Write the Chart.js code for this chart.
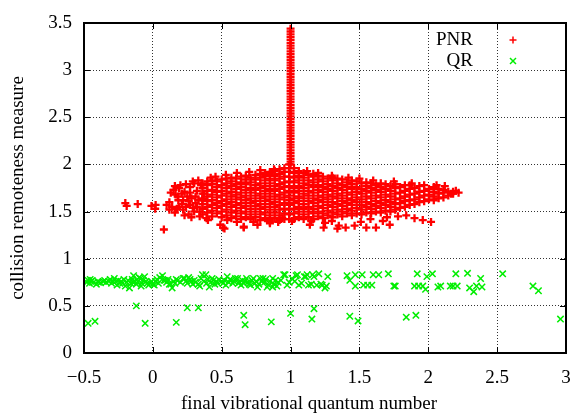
<!DOCTYPE html>
<html><head><meta charset="utf-8">
<script src="https://cdn.jsdelivr.net/npm/chart.js@4/dist/chart.umd.min.js"></script>
<style>html,body{margin:0;padding:0;background:#fff}#wrap{width:573px;height:414px;position:relative}</style>
</head><body><div id="wrap"><canvas id="c" width="573" height="414"></canvas></div>
<script>
const seriesNames = ['PNR', 'QR'];
const xAxisTitle = 'final vibrational quantum number';
const yAxisTitle = 'collision remoteness measure';
const xTickValues = [-0.5, 0, 0.5, 1, 1.5, 2, 2.5, 3];
const yTickValues = [0, 0.5, 1, 1.5, 2, 2.5, 3, 3.5];

// PNR dense cloud, read column by column (x, then the y values seen in that column)
const pnrColumnX = [0.36,0.395,0.43,0.465,0.50,0.535,0.57,0.605,0.64,0.675,0.71,0.745,0.78,0.815,0.85,0.885,0.92,0.955,0.99,1.025,1.06,1.095,1.13,1.165,1.20,1.235,1.27,1.305,1.34,1.375,1.41,1.445,1.48,1.515,1.55,1.585,1.62,1.655,1.69,1.725,1.76,1.795,1.83,1.865,1.90,1.935,1.97,2.005,2.04,2.075,2.11,2.145,2.18];
const pnrColumnY = [
 [1.47,1.53,1.58,1.64,1.69,1.75,1.80],
 [1.49,1.55,1.61,1.66,1.72,1.78,1.82],
 [1.45,1.51,1.57,1.62,1.68,1.73,1.79,1.83],
 [1.48,1.54,1.59,1.65,1.71,1.76,1.82],
 [1.44,1.50,1.56,1.61,1.67,1.72,1.78,1.84],
 [1.46,1.52,1.58,1.63,1.69,1.75,1.80,1.85],
 [1.43,1.49,1.55,1.60,1.66,1.71,1.77,1.82,1.86],
 [1.45,1.51,1.57,1.63,1.68,1.74,1.79,1.85],
 [1.42,1.48,1.54,1.59,1.65,1.70,1.76,1.81,1.87],
 [1.44,1.50,1.56,1.62,1.67,1.73,1.79,1.84,1.88],
 [1.42,1.47,1.53,1.59,1.64,1.70,1.75,1.81,1.86],
 [1.44,1.50,1.56,1.61,1.67,1.73,1.78,1.84,1.89],
 [1.41,1.47,1.53,1.58,1.64,1.69,1.75,1.80,1.86,1.90],
 [1.43,1.49,1.55,1.61,1.66,1.72,1.77,1.83,1.88,1.91],
 [1.41,1.46,1.52,1.58,1.63,1.69,1.74,1.80,1.85,1.90,1.92],
 [1.43,1.49,1.55,1.60,1.66,1.72,1.77,1.83,1.88,1.93],
 [1.41,1.46,1.52,1.57,1.63,1.68,1.74,1.79,1.85,1.90,1.95],
 [1.42,1.48,1.53,1.59,1.65,1.70,1.76,1.81,1.87,1.92,1.96],
 [1.42,1.47,1.52,1.57,1.62,1.67,1.72,1.77,1.82,1.87,1.92,1.96,2.00],
 [1.42,1.48,1.53,1.59,1.64,1.70,1.75,1.81,1.86,1.91,1.96],
 [1.44,1.50,1.55,1.61,1.66,1.72,1.77,1.83,1.88,1.93],
 [1.42,1.47,1.53,1.58,1.64,1.69,1.75,1.80,1.86,1.91],
 [1.44,1.50,1.55,1.61,1.67,1.72,1.78,1.83,1.89],
 [1.42,1.48,1.53,1.59,1.64,1.70,1.76,1.81,1.87,1.90],
 [1.45,1.50,1.56,1.62,1.67,1.73,1.78,1.84,1.88],
 [1.43,1.48,1.54,1.60,1.65,1.71,1.76,1.82,1.87],
 [1.46,1.51,1.57,1.63,1.68,1.74,1.79,1.85],
 [1.44,1.49,1.55,1.60,1.66,1.72,1.77,1.83,1.86],
 [1.47,1.52,1.58,1.64,1.69,1.75,1.80,1.85],
 [1.45,1.50,1.56,1.61,1.67,1.73,1.78,1.84],
 [1.48,1.53,1.59,1.64,1.70,1.76,1.81],
 [1.46,1.51,1.57,1.62,1.68,1.74,1.79,1.83],
 [1.48,1.54,1.60,1.65,1.71,1.76,1.82],
 [1.47,1.52,1.57,1.63,1.69,1.74,1.80],
 [1.49,1.55,1.60,1.66,1.72,1.77,1.81],
 [1.48,1.53,1.58,1.64,1.70,1.75,1.80],
 [1.50,1.56,1.61,1.67,1.73,1.78],
 [1.49,1.54,1.59,1.65,1.71,1.76,1.80],
 [1.51,1.57,1.62,1.68,1.74,1.79],
 [1.50,1.55,1.60,1.66,1.72,1.77],
 [1.52,1.58,1.63,1.69,1.75,1.79],
 [1.54,1.59,1.64,1.70,1.76],
 [1.55,1.61,1.66,1.72,1.78],
 [1.57,1.62,1.68,1.74,1.78],
 [1.58,1.63,1.69,1.75],
 [1.60,1.65,1.71,1.77],
 [1.61,1.67,1.72,1.78],
 [1.63,1.68,1.74],
 [1.62,1.66,1.71,1.76],
 [1.64,1.69,1.74],
 [1.65,1.70,1.73],
 [1.67,1.71],
 [1.69,1.71]
];
// PNR tall spike at v = 1
const pnrSpikeX = 1;
const pnrSpikeY = [2.00,2.03,2.06,2.09,2.12,2.15,2.18,2.21,2.24,2.27,2.30,2.33,2.36,2.39,2.42,2.45,2.48,2.51,2.54,2.57,2.60,2.63,2.66,2.69,2.72,2.75,2.78,2.81,2.84,2.87,2.90,2.93,2.96,2.99,3.02,3.05,3.08,3.11,3.14,3.17,3.20,3.23,3.26,3.29,3.32,3.35,3.38,3.41,3.44];
// PNR scattered points at the edges of the cloud
const pnrScattered = [
 [-0.20,1.59],[-0.19,1.56],[-0.11,1.58],[-0.01,1.56],[0.017,1.53],[0.08,1.31],[0.02,1.57],[0.10,1.57],
 [0.14,1.55],[0.175,1.53],[0.22,1.52],[0.15,1.73],[0.165,1.68],[0.20,1.78],[0.185,1.62],[0.27,1.76],
 [0.30,1.80],[0.33,1.83],[0.25,1.66],[0.31,1.59],[0.34,1.50],[0.39,1.43],[0.49,1.36],[0.51,1.33],
 [0.42,1.86],[0.455,1.87],[0.53,1.89],[0.61,1.91],[0.22,1.62],[0.27,1.57],[0.30,1.50],[0.37,1.69],
 [0.12,1.60],[0.13,1.70],[0.19,1.75],[0.23,1.71],[0.26,1.47],[0.28,1.64],[0.32,1.72],[0.21,1.58],
 [0.24,1.55],[0.29,1.54],[0.33,1.62],[0.18,1.66],[0.54,1.41],[0.61,1.39],[0.66,1.34],[0.76,1.36],
 [0.85,1.39],[0.91,1.39],[0.40,1.41],[0.52,1.32],[0.66,1.33],[0.73,1.39],[0.85,1.375],[0.94,1.43],
 [1.01,1.40],[1.15,1.40],[1.24,1.33],[1.34,1.32],[1.14,1.36],[1.35,1.35],[1.40,1.33],[1.465,1.35],
 [1.55,1.33],[1.62,1.33],[1.72,1.36],[1.90,1.43],[1.96,1.41],[2.02,1.39],[1.51,1.39],[1.67,1.40],
 [1.78,1.45],[1.84,1.46],[1.25,1.38],[1.30,1.40],[1.58,1.42],[1.70,1.44],[0.70,1.92],[0.78,1.94],
 [0.88,1.95],[1.12,1.93],[1.20,1.91],[1.30,1.88],[1.42,1.86],[1.50,1.85],[1.60,1.83],[1.75,1.82],
 [1.88,1.80],[2.22,1.70],[2.165,1.69],[2.20,1.72],[2.12,1.77],[2.06,1.78],
 [0.16,1.77],[0.24,1.79],[0.21,1.69],[0.27,1.70],[0.29,1.82],[0.35,1.78],[0.16,1.49],[0.23,1.46],
 [0.28,1.44],[0.34,1.45],[0.12,1.52],[0.26,1.61],[0.32,1.55],[0.19,1.55],[0.36,1.62],[0.31,1.66]
];
// QR points
const qrPoints = [
 [-0.47,0.315],[-0.42,0.336],[-0.12,0.50],[-0.056,0.315],[0.17,0.325],[0.25,0.48],[0.33,0.48],[0.66,0.40],
 [0.67,0.30],[0.86,0.33],[1.0,0.42],[1.17,0.47],[1.155,0.36],[1.43,0.39],[1.49,0.34],[1.84,0.38],[1.91,0.40],[2.96,0.36],
 [-0.48,0.75],[-0.47,0.77],[-0.46,0.74],[-0.45,0.76],[-0.44,0.77],[-0.43,0.75],[-0.41,0.73],[-0.40,0.76],
 [-0.38,0.745],[-0.36,0.76],[-0.34,0.75],[-0.32,0.76],[-0.31,0.78],[-0.30,0.74],[-0.28,0.79],[-0.27,0.76],
 [-0.26,0.72],[-0.25,0.77],[-0.23,0.76],[-0.22,0.74],[-0.21,0.78],[-0.20,0.71],[-0.19,0.75],[-0.18,0.77],
 [-0.17,0.69],[-0.16,0.74],[-0.15,0.78],[-0.14,0.82],[-0.13,0.76],[-0.12,0.73],[-0.11,0.76],[-0.10,0.80],
 [-0.09,0.79],[-0.08,0.74],[-0.07,0.77],[-0.06,0.81],[-0.05,0.76],[-0.04,0.74],[-0.03,0.72],[-0.02,0.74],
 [-0.01,0.76],[0.00,0.73],[0.01,0.72],[0.03,0.78],[0.05,0.80],[0.07,0.82],[0.08,0.77],[0.09,0.77],
 [0.10,0.75],[0.12,0.73],[0.13,0.73],[0.14,0.69],[0.15,0.76],[0.17,0.78],[0.18,0.77],[0.20,0.75],
 [0.22,0.79],[0.23,0.79],[0.24,0.76],[0.25,0.74],[0.27,0.78],[0.28,0.76],[0.30,0.77],[0.31,0.75],
 [0.33,0.73],[0.34,0.71],[0.35,0.79],[0.36,0.83],[0.37,0.76],[0.385,0.83],[0.40,0.78],[0.41,0.70],
 [0.42,0.75],[0.44,0.77],[0.45,0.73],[0.47,0.74],[0.48,0.78],[0.50,0.76],[0.52,0.77],[0.53,0.72],
 [0.54,0.81],[0.56,0.78],[0.58,0.74],[0.59,0.76],[0.60,0.79],[0.615,0.79],[0.63,0.75],[0.64,0.72],[0.65,0.77],
 [0.66,0.74],[0.67,0.76],[0.68,0.79],[0.69,0.75],[0.70,0.73],[0.71,0.72],[0.72,0.77],[0.73,0.79],
 [0.74,0.74],[0.75,0.76],[0.76,0.70],[0.77,0.73],[0.78,0.79],[0.80,0.79],[0.81,0.75],[0.83,0.70],
 [0.84,0.72],[0.85,0.76],[0.87,0.79],[0.87,0.70],[0.88,0.73],[0.90,0.71],[0.91,0.75],[0.93,0.77],
 [0.95,0.83],[0.96,0.83],[0.975,0.72],[0.99,0.75],[1.01,0.79],[1.03,0.76],[1.04,0.82],[1.05,0.83],
 [1.06,0.72],[1.08,0.74],[1.10,0.81],[1.11,0.81],[1.12,0.83],[1.13,0.72],[1.15,0.73],[1.16,0.83],
 [1.17,0.81],[1.19,0.72],[1.205,0.84],[1.22,0.73],[1.23,0.72],[1.25,0.69],[1.26,0.71],[1.27,0.81],
 [1.41,0.82],[1.43,0.77],[1.47,0.71],[1.47,0.83],[1.52,0.83],[1.53,0.72],[1.56,0.72],[1.59,0.72],
 [1.60,0.83],[1.64,0.83],[1.71,0.84],[1.75,0.71],[1.76,0.71],[1.90,0.71],[1.92,0.84],[1.93,0.71],
 [1.96,0.71],[1.98,0.675],[1.99,0.81],[2.03,0.84],[2.07,0.70],[2.09,0.71],[2.16,0.71],[2.18,0.71],
 [2.20,0.84],[2.21,0.71],[2.285,0.845],[2.30,0.69],[2.33,0.65],[2.35,0.71],[2.38,0.79],[2.39,0.70],
 [2.54,0.84],[2.76,0.71],[2.80,0.66],
 [-0.455,0.78],[-0.395,0.75],[-0.35,0.77],[-0.29,0.76],[-0.24,0.74],[-0.145,0.75],[-0.085,0.71],[0.02,0.76],
 [0.04,0.74],[0.11,0.78],[0.16,0.74],[0.26,0.80],[0.29,0.73],[0.39,0.74],[0.43,0.79],[0.46,0.76],
 [0.51,0.74],[0.55,0.75],[0.57,0.77],[0.62,0.74],[0.79,0.76],[0.82,0.78],[0.89,0.77]
];

// build point tables for the library
const pnrData = [];
pnrColumnX.forEach((x, i) => pnrColumnY[i].forEach(y => pnrData.push({x, y})));
pnrSpikeY.forEach(y => pnrData.push({x: pnrSpikeX, y}));
pnrScattered.forEach(p => pnrData.push({x: p[0], y: p[1]}));
const qrData = qrPoints.map(p => ({x: p[0], y: p[1]}));

const FONT = '"Liberation Serif", "Times New Roman", serif';
const RED = '#ff0000', GREEN = '#00ee00';
const fmt = v => (v < 0 ? '\u2212' + String(-v) : String(v));

const overlay = {
  id: 'overlay',
  afterDraw(chart) {
    const {ctx, chartArea: a, scales: {x, y}} = chart;
    ctx.save();
    ctx.setLineDash([]);
    ctx.strokeStyle = '#000';
    ctx.lineWidth = 1;
    const seg = (x1, y1, x2, y2) => { ctx.beginPath(); ctx.moveTo(x1, y1); ctx.lineTo(x2, y2); ctx.stroke(); };
    xTickValues.forEach(v => { const p = Math.round(x.getPixelForValue(v)) + 0.5; seg(p, a.bottom, p, a.bottom - 6); seg(p, a.top, p, a.top + 6); });
    yTickValues.forEach(v => { const p = Math.round(y.getPixelForValue(v)) + 0.5; seg(a.left, p, a.left + 6, p); seg(a.right, p, a.right - 6, p); });
    ctx.lineWidth = 2;
    ctx.strokeRect(a.left, a.top, a.right - a.left, a.bottom - a.top);
    ctx.fillStyle = '#000';
    ctx.font = '19px ' + FONT;
    // tick labels
    ctx.textBaseline = 'middle';
    ctx.textAlign = 'right';
    yTickValues.forEach(v => ctx.fillText(fmt(v), a.left - 12, y.getPixelForValue(v)));
    ctx.textAlign = 'center';
    xTickValues.forEach(v => ctx.fillText(fmt(v), x.getPixelForValue(v), a.bottom + 25));
    // legend
    ctx.textAlign = 'right';
    const lx = a.right - 93, mx = a.right - 53;
    ctx.fillText(seriesNames[0], lx, a.top + 17);
    ctx.fillText(seriesNames[1], lx, a.top + 38);
    ctx.lineWidth = 1.5;
    ctx.strokeStyle = RED;
    seg(mx - 3.5, a.top + 17, mx + 3.5, a.top + 17); seg(mx, a.top + 13.5, mx, a.top + 20.5);
    ctx.strokeStyle = GREEN;
    seg(mx - 3, a.top + 35, mx + 3, a.top + 41); seg(mx - 3, a.top + 41, mx + 3, a.top + 35);
    // axis titles
    ctx.textAlign = 'center';
    ctx.fillText(xAxisTitle, 309, 404);
    ctx.translate(18, (a.top + a.bottom) / 2);
    ctx.rotate(-Math.PI / 2);
    ctx.fillText(yAxisTitle, 0, 0);
    ctx.restore();
  }
};

new Chart(document.getElementById('c'), {
  type: 'scatter',
  data: {
    datasets: [
      { label: seriesNames[0], data: pnrData, pointStyle: 'cross', radius: 4, borderWidth: 2.3, borderColor: RED, backgroundColor: RED, hoverRadius: 4 },
      { label: seriesNames[1], data: qrData, pointStyle: 'crossRot', radius: 4.5, borderWidth: 1.5, borderColor: GREEN, backgroundColor: GREEN, hoverRadius: 4.5 }
    ]
  },
  options: {
    responsive: false,
    animation: false,
    events: [],
    layout: { padding: { top: 23, right: 7, left: 0, bottom: 0 } },
    plugins: { legend: { display: false }, tooltip: { enabled: false } },
    scales: {
      x: {
        type: 'linear', min: -0.5, max: 3,
        afterBuildTicks: s => { s.ticks = xTickValues.map(v => ({value: v})); },
        afterFit: s => { s.height = 61; },
        ticks: { display: false },
        grid: { color: 'rgba(0,0,0,0.8)', lineWidth: 1, drawTicks: false },
        border: { display: false, dash: [1, 2] }
      },
      y: {
        type: 'linear', min: 0, max: 3.5,
        afterBuildTicks: s => { s.ticks = yTickValues.map(v => ({value: v})); },
        afterFit: s => { s.width = 84; },
        ticks: { display: false },
        grid: { color: 'rgba(0,0,0,0.8)', lineWidth: 1, drawTicks: false },
        border: { display: false, dash: [1, 2] }
      }
    }
  },
  plugins: [overlay]
});
</script>
</body></html>
